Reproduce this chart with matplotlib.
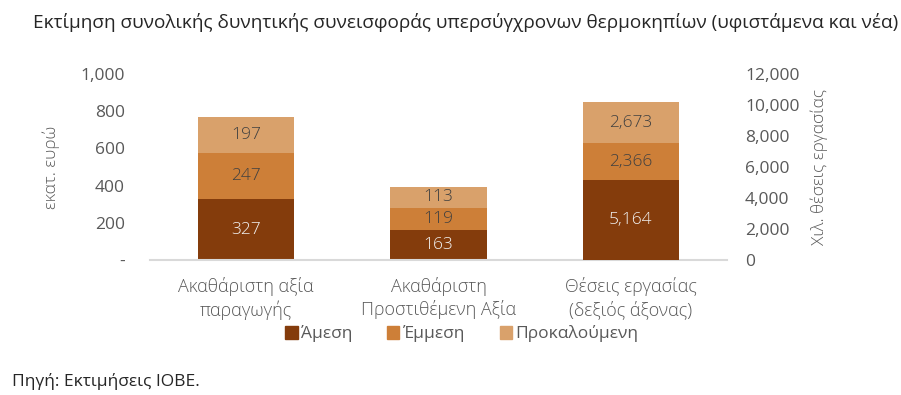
import matplotlib.pyplot as plt
from matplotlib.ticker import FuncFormatter
from matplotlib.patches import Patch

plt.rcParams['font.family'] = ['Open Sans', 'DejaVu Sans']

# Data
categories = ['Ακαθάριστη αξία\nπαραγωγής', 'Ακαθάριστη\nΠροστιθέμενη Αξία', 'Θέσεις εργασίας\n(δεξιός άξονας)']
series_names = ['Άμεση', 'Έμμεση', 'Προκαλούμενη']
direct = [327, 163, 5164]
indirect = [247, 119, 2366]
induced = [197, 113, 2673]
colors = ['#843C0C', '#CD7F38', '#D9A16B']
label_colors = ['#F2F2F2', '#404040', '#404040']

fig = plt.figure(figsize=(9.01, 3.95), dpi=100)
ax = fig.add_axes([150/901, 1-260/395, 577/901, 186/395])
ax2 = ax.twinx()

width = 0.5
for i in range(len(categories)):
    target = ax2 if i == 2 else ax
    bottom = 0
    for vals, c, lc in zip([direct, indirect, induced], colors, label_colors):
        v = vals[i]
        target.bar(i, v, width, bottom=bottom, color=c, zorder=2)
        target.text(i, bottom + v/2, f'{v:,}', ha='center', va='center',
                    color=lc, fontsize=12.5, fontweight='light', zorder=3)
        bottom += v

ax.set_xlim(-0.5, 2.5)
ax.set_ylim(0, 1000)
ax.set_yticks(range(0, 1001, 200))
ax.yaxis.set_major_formatter(FuncFormatter(lambda v, p: '-' if v == 0 else f'{v:,.0f}'))
ax2.set_ylim(0, 12000)
ax2.set_yticks(range(0, 12001, 2000))
ax2.yaxis.set_major_formatter(FuncFormatter(lambda v, p: f'{v:,.0f}'))

ax.set_xticks(range(len(categories)))
ax.set_xticklabels(categories, fontsize=13, color='#595959', linespacing=1.3, fontweight='light')

for a in (ax, ax2):
    for s in a.spines.values():
        s.set_visible(False)
    a.tick_params(length=0, labelsize=12.5, labelcolor='#595959')
ax.tick_params(axis='x', labelsize=13)
ax.spines['bottom'].set_visible(True)
ax.spines['bottom'].set_color('#D9D9D9')
ax.spines['bottom'].set_linewidth(1.5)
ax.tick_params(axis='y', pad=18)
ax.tick_params(axis='x', pad=12)
ax2.tick_params(axis='y', pad=13)

ax.set_ylabel('εκατ. ευρώ', fontsize=12.5, color='#595959', labelpad=15, fontweight='light')
ax2.set_ylabel('Χιλ. θέσεις εργασίας', fontsize=12.5, color='#595959', rotation=90,
               labelpad=8, fontweight='light')

handles = [Patch(color=c) for c in colors]
fig.legend(handles, series_names, loc='center', bbox_to_anchor=(462/901, 1-334/395),
           ncol=3, frameon=False, fontsize=12.5, handlelength=0.7, handleheight=0.7,
           handletextpad=0.2, columnspacing=2.0, labelcolor='#595959')

fig.text(33/901, 1-22/395,
         'Εκτίμηση συνολικής δυνητικής συνεισφοράς υπερσύγχρονων θερμοκηπίων (υφιστάμενα και νέα)',
         ha='left', va='center', fontsize=13.65, color='#262626')
fig.text(12/901, 1-381/395, 'Πηγή: Εκτιμήσεις ΙΟΒΕ.', ha='left', va='center',
         fontsize=12.5, color='#262626')

fig.savefig('out.png', dpi=100)
